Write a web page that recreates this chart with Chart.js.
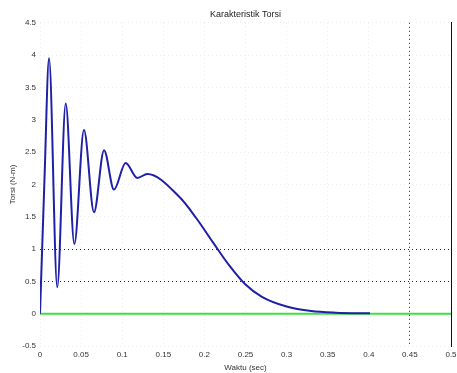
<!DOCTYPE html>
<html>
<head>
<meta charset="utf-8">
<script src="https://cdn.jsdelivr.net/npm/chart.js@4"></script>
<style>
  html, body { margin: 0; padding: 0; background: #fff; }
  #wrap { width: 457px; height: 373px; }
</style>
</head>
<body>
<div id="wrap"><canvas id="chart"></canvas></div>
<script>
// Torque response (time in s, torque in N-m)
const timeSec = [0, 0.0055, 0.011, 0.021, 0.0313, 0.0418, 0.0535, 0.0657, 0.0779, 0.090,
    0.1042, 0.1184, 0.1305, 0.17, 0.19, 0.21, 0.23, 0.25, 0.27, 0.30,
    0.33, 0.36, 0.4015];
const torque = [0, 2.1, 3.95, 0.41, 3.25, 1.08, 2.84, 1.57, 2.53, 1.92,
    2.33, 2.10, 2.16, 1.80, 1.48, 1.11, 0.75, 0.45, 0.26, 0.11,
    0.04, 0.015, 0.005];

// zero reference line
const zeroLineX = [0, 0.5];
const zeroLineY = [0, 0];

const xTicks = [0, 0.05, 0.1, 0.15, 0.2, 0.25, 0.3, 0.35, 0.4, 0.45, 0.5];
const yTicks = [-0.5, 0, 0.5, 1, 1.5, 2, 2.5, 3, 3.5, 4, 4.5];
// grid lines drawn dark and dotted in the original
const darkXGrid = [0.45];
const darkYGrid = [0.5, 1];

const FONT = 'Liberation Sans, Arial, sans-serif';
const TEXT = '#333';

function toPoints(xs, ys) {
    return xs.map((x, i) => ({ x: x, y: ys[i] }));
}

const ctx = document.getElementById('chart').getContext('2d');
new Chart(ctx, {
    type: 'line',
    data: {
        datasets: [
            {
                label: 'Torsi',
                data: toPoints(timeSec, torque),
                borderColor: '#1f1fa8',
                borderWidth: 2,
                pointRadius: 0,
                cubicInterpolationMode: 'monotone',
                fill: false
            },
            {
                label: 'nol',
                data: toPoints(zeroLineX, zeroLineY),
                borderColor: '#3ee03e',
                borderWidth: 2,
                pointRadius: 0,
                fill: false
            }
        ]
    },
    options: {
        responsive: true,
        maintainAspectRatio: false,
        animation: false,
        layout: { padding: { left: 0, right: 6, top: 0, bottom: 0 } },
        plugins: {
            legend: { display: false },
            tooltip: { enabled: false },
            title: {
                display: true,
                text: 'Karakteristik Torsi',
                fullSize: false,
                color: '#222',
                font: { family: FONT, size: 9, weight: 'normal' },
                padding: { top: 9, bottom: 3 }
            }
        },
        scales: {
            x: {
                type: 'linear',
                min: 0,
                max: 0.5,
                afterBuildTicks: scale => { scale.ticks = xTicks.map(v => ({ value: v })); },
                afterFit: scale => {
                    scale.height = 27;
                    scale.paddingLeft = 0;
                    scale.paddingRight = 0;
                },
                ticks: {
                    color: TEXT,
                    font: { family: FONT, size: 8 },
                    padding: 4,
                    maxRotation: 0,
                    autoSkip: false,
                    callback: v => String(v)
                },
                grid: {
                    color: c => darkXGrid.includes(c.tick && c.tick.value) ? '#222' : '#ededed',
                    lineWidth: 1,
                    drawTicks: false
                },
                border: { display: false, dash: [1, 3] },
                title: {
                    display: true,
                    text: 'Waktu (sec)',
                    color: TEXT,
                    font: { family: FONT, size: 8 },
                    padding: { top: 0, bottom: 0 }
                }
            },
            y: {
                min: -0.5,
                max: 4.5,
                afterBuildTicks: scale => { scale.ticks = yTicks.map(v => ({ value: v })); },
                afterFit: scale => { scale.width = 40; },
                ticks: {
                    color: TEXT,
                    font: { family: FONT, size: 8 },
                    padding: 4,
                    autoSkip: false,
                    callback: v => String(v)
                },
                grid: {
                    color: c => darkYGrid.includes(c.tick && c.tick.value) ? '#222' : '#ededed',
                    lineWidth: 1,
                    drawTicks: false
                },
                border: { display: false, dash: [1, 3] },
                title: {
                    display: true,
                    text: 'Torsi (N-m)',
                    color: TEXT,
                    font: { family: FONT, size: 8 },
                    padding: { top: 8, bottom: 0 }
                }
            },
            yRight: {
                position: 'right',
                min: -0.5,
                max: 4.5,
                afterFit: scale => { scale.width = 0; },
                ticks: { display: false },
                grid: { display: false, drawTicks: false },
                border: { display: true, color: '#111', width: 1 }
            }
        }
    }
});
</script>
</body>
</html>
